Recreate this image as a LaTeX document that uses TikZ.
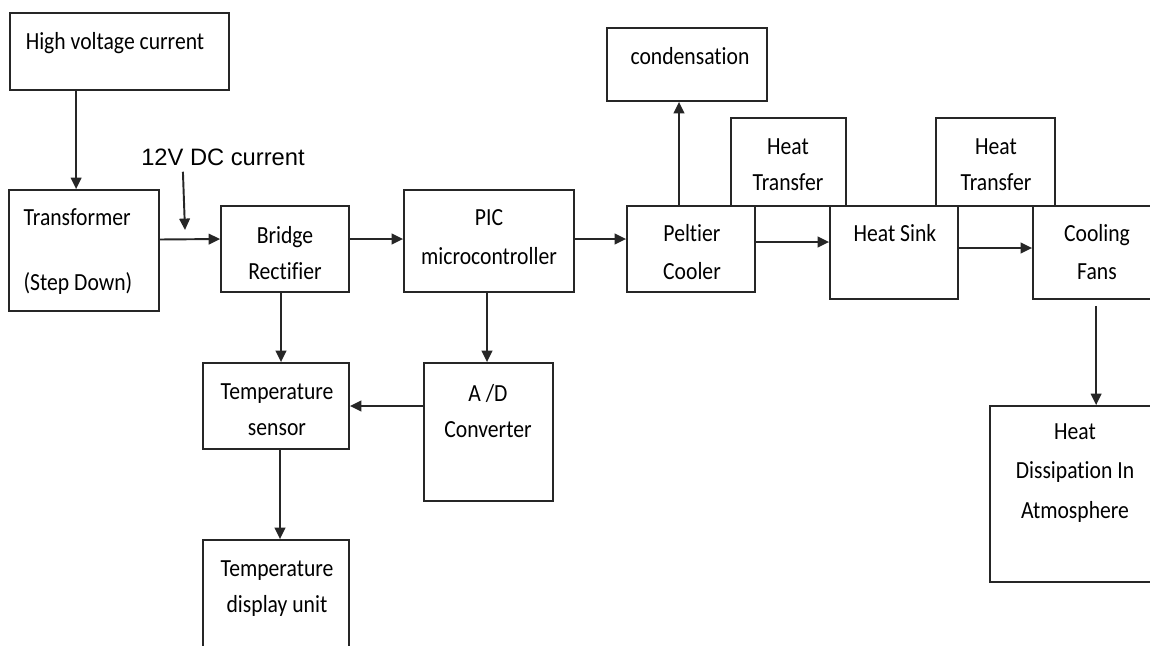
\documentclass[tikz,border=0pt]{standalone}
\usepackage{fontspec}
\setmainfont{Carlito}[FakeStretch=0.88,Ligatures=NoCommon]
\newfontfamily\dcfont{Liberation Sans}
\usetikzlibrary{fit,calc,arrows.meta}
\tikzset{
  blk/.style={draw=black!85, line width=1pt, inner sep=0pt},
  txt/.style={align=center, inner sep=0pt, font={\fontsize{14pt}{20.5pt}\selectfont}},
  arr/.style={draw=black!85, line width=1.1pt, -{Triangle[length=6.5pt,width=6pt]}}}

\begin{document}
\begin{tikzpicture}[x=0.02cm,y=-0.02cm]
\useasboundingbox (0,0) rectangle (1150,646);
\node[blk, fit={(10,13) (229,90)}] (hv) {};
\node[blk, fit={(9,190) (159,311)}] (trans) {};
\node[blk, fit={(221,206) (349,292)}] (bridge) {};
\node[blk, fit={(404,190) (574,292)}] (pic) {};
\node[blk, fit={(627,206) (755,292)}] (peltier) {};
\node[blk, fit={(607,28) (767,101)}] (cond) {};
\node[blk, fit={(731,118) (846,206)}] (htone) {};
\node[blk, fit={(830,206) (958,299)}] (sink) {};
\node[blk, fit={(936,118) (1055,206)}] (httwo) {};
\node[blk, fit={(1033,206) (1165,299)}] (fans) {};
\node[blk, fit={(203,363) (349,449)}] (sensor) {};
\node[blk, fit={(424,363) (553,501)}] (ad) {};
\node[blk, fit={(203,540) (349,660)}] (display) {};
\node[blk, fit={(990,406) (1165,582)}] (diss) {};
\node[txt] (hvtxt) at (115,43) {High voltage current};
\node[txt, align=left] (transtxt) at (78,252) {Transformer\\[16.5pt](Step Down)};
\node[txt] (bridgetxt) at (285,253) {Bridge\\Rectifier};
\node[txt, font={\fontsize{14pt}{22pt}\selectfont}] (pictxt) at (489,237) {PIC\\microcontroller};
\node[txt, font={\fontsize{14pt}{22pt}\selectfont}] (peltiertxt) at (692,252) {Peltier\\Cooler};
\node[txt] (condtxt) at (690,56) {condensation};
\node[txt] (htonetxt) at (788,165) {Heat\\Transfer};
\node[txt] (sinktxt) at (895,233) {Heat Sink};
\node[txt] (httwotxt) at (996,165) {Heat\\Transfer};
\node[txt, font={\fontsize{14pt}{22pt}\selectfont}] (fanstxt) at (1097,252) {Cooling\\Fans};
\node[txt] (sensortxt) at (277,410) {Temperature\\sensor};
\node[txt] (adtxt) at (488,411) {A /D\\Converter};
\node[txt] (displaytxt) at (277,589) {Temperature\\display unit};
\node[txt, font={\fontsize{14pt}{22.7pt}\selectfont}] (disstxt) at (1075,473) {Heat\\Dissipation In\\Atmosphere};
\node[inner sep=0pt, font={\dcfont\fontsize{13.5pt}{16pt}\selectfont}] (dc) at (223,157) {12V DC current};
\coordinate (dcin) at (185,230);
\draw[arr] ($(hv.south west)+(67,0)$) -- ($(trans.north west)+(68,0)$);
\draw[arr] ($(dc.south west)+(42,6)$) -- (dcin);
\draw[arr] ($(trans.east)+(0,-11)$) -- ($(bridge.west)+(0,-10)$);
\draw[arr] ($(bridge.east)+(0,-10)$) -- ($(pic.west)+(0,-2)$);
\draw[arr] ($(pic.east)+(0,-2)$) -- ($(peltier.west)+(0,-10)$);
\draw[arr] ($(peltier.north)+(-12,0)$) -- ($(cond.south)+(-8,0)$);
\draw[arr] ($(peltier.east)+(0,-7)$) -- ($(sink.west)+(0,-10.5)$);
\draw[arr] ($(sink.east)+(0,-4.5)$) -- ($(fans.west)+(0,-4.5)$);
\draw[arr] ($(fans.south west)+(64,6)$) -- ($(diss.north west)+(107,0)$);
\draw[arr] ($(bridge.south)+(-4,0)$) -- ($(sensor.north)+(5,0)$);
\draw[arr] ($(pic.south)+(-2,0)$) -- ($(ad.north)+(-1.5,0)$);
\draw[arr] (ad.west |- sensor.east) -- (sensor.east);
\draw[arr] ($(sensor.south)+(4,0)$) -- ($(display.north)+(4,0)$);
\end{tikzpicture}
\end{document}
